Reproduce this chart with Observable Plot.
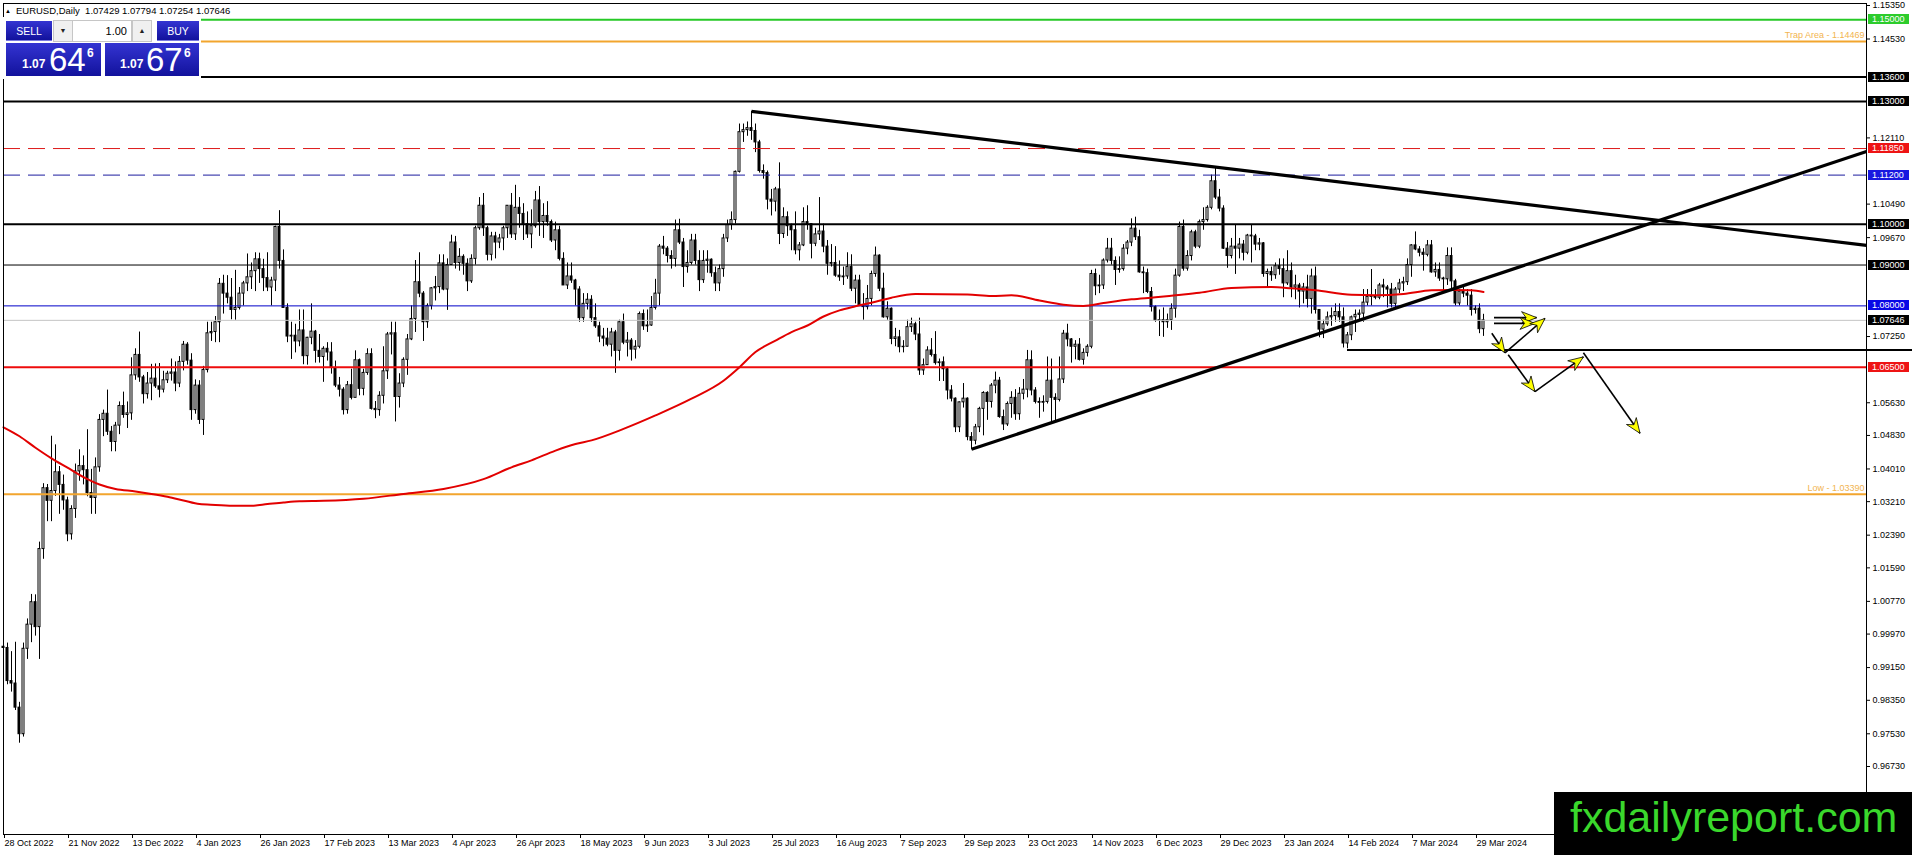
<!DOCTYPE html>
<html><head><meta charset="utf-8">
<script src="https://cdn.jsdelivr.net/npm/d3@7"></script>
<script src="https://cdn.jsdelivr.net/npm/@observablehq/plot@0.6"></script>
<style>
html,body{margin:0;padding:0;background:#fff;}
#wrap{position:relative;width:1912px;height:855px;overflow:hidden;font-family:"Liberation Sans",Arial,sans-serif;}
#chart svg{display:block;}
#hdr{position:absolute;left:5px;top:5px;font-size:9.5px;line-height:12px;color:#000;white-space:nowrap;}
#hdr .tri{font-size:6px;vertical-align:1px;margin-right:5px;}
#panel{position:absolute;left:0;top:17px;width:201px;height:62px;background:#fff;}
#panel div{position:absolute;box-sizing:border-box;}
.blue{background:linear-gradient(#3434d2,#12129c);color:#fff;}
.btn{top:4px;height:20px;font-size:10.5px;line-height:20px;text-align:center;border-bottom:1px solid #7a7ae0;}
.spin{top:3px;height:22px;width:20px;background:#f0f0f0;border:1px solid #c6c6c6;font-size:7px;line-height:20px;text-align:center;color:#222;}
.lot{top:3px;height:22px;left:72px;width:60px;background:#fff;border:1px solid #c6c6c6;font-size:11px;line-height:20px;text-align:right;padding-right:4px;color:#000;}
.quote{top:26px;height:33px;}
.quote span{position:absolute;line-height:1;white-space:nowrap;color:#fff;}
.q-sm{font-size:12px;font-weight:bold;top:15px;}
.q-big{font-size:33px;top:0px;}
.q-sup{font-size:12px;font-weight:bold;top:4px;}
#wm{position:absolute;left:1554px;top:792px;width:358px;height:63px;background:#000;}
#wm span{position:absolute;left:16px;top:4px;font-size:43px;line-height:43px;color:#3ad82c;white-space:nowrap;}
</style></head><body>
<div id="wrap">
  <div id="chart"></div>
  <div id="hdr"><span class="tri">▲</span>EURUSD,Daily&nbsp; 1.07429 1.07794 1.07254 1.07646</div>
  <div id="panel">
    <div class="btn blue" style="left:6px;width:46px;">SELL</div>
    <div class="spin" style="left:53px;">▼</div>
    <div class="lot">1.00</div>
    <div class="spin" style="left:132px;">▲</div>
    <div class="btn blue" style="left:157px;width:42px;">BUY</div>
    <div class="quote blue" style="left:6px;width:95px;"><span class="q-sm" style="left:16px;">1.07</span><span class="q-big" style="left:43px;">64</span><span class="q-sup" style="left:81px;">6</span></div>
    <div class="quote blue" style="left:105px;width:94px;"><span class="q-sm" style="left:15px;">1.07</span><span class="q-big" style="left:41px;">67</span><span class="q-sup" style="left:79px;">6</span></div>
  </div>
  <div id="wm"><span>fxdailyreport.com</span></div>
</div>
<script>
// ---------------- DATA (EURUSD Daily, one entry per bar, 28 Oct 2022 .. 2 Apr 2024) ----------------
const firstOpen = 0.9966;
const close = [
  0.9963,
  0.9882, 0.9876, 0.9817, 0.9752, 0.9961,
  1.0020, 1.0075, 1.0014, 1.0205, 1.0354,
  1.0323, 1.0347, 1.0393, 1.0362, 1.0324,
  1.0241, 1.0303, 1.0395, 1.0408, 1.0398,
  1.0342, 1.0330, 1.0405, 1.0521, 1.0536,
  1.0492, 1.0467, 1.0507, 1.0555, 1.0533,
  1.0537, 1.0630, 1.0680, 1.0625, 1.0584,
  1.0610, 1.0622, 1.0603, 1.0595, 1.0618,
  1.0634, 1.0637, 1.0610, 1.0663, 1.0705,
  1.0666, 1.0545, 1.0605, 1.0521, 1.0643,
  1.0733, 1.0736, 1.0760, 1.0854, 1.0830,
  1.0820, 1.0790, 1.0795, 1.0830, 1.0855,
  1.0870, 1.0885, 1.0914, 1.0890, 1.0868,
  1.0845, 1.0862, 1.0993, 1.0910, 1.0795,
  1.0725, 1.0727, 1.0713, 1.0740, 1.0677,
  1.0722, 1.0737, 1.0690, 1.0675, 1.0695,
  1.0686, 1.0648, 1.0605, 1.0595, 1.0545,
  1.0606, 1.0575, 1.0667, 1.0597, 1.0636,
  1.0682, 1.0548, 1.0545, 1.0580, 1.0640,
  1.0730, 1.0733, 1.0577, 1.0610, 1.0668,
  1.0718, 1.0768, 1.0858, 1.0830, 1.0760,
  1.0800, 1.0843, 1.0846, 1.0904, 1.0840,
  1.0900, 1.0955, 1.0905, 1.0920, 1.0903,
  1.0860, 1.0915, 1.0990, 1.1045, 1.0990,
  1.0925, 1.0970, 1.0955, 1.0965, 1.0990,
  1.1045, 1.0975, 1.1040, 1.1025, 1.1000,
  1.0975, 1.0995, 1.1058, 1.1005, 1.1020,
  1.1005, 1.0960, 1.0985, 1.0915, 1.0850,
  1.0872, 1.0862, 1.0840, 1.0770, 1.0805,
  1.0815, 1.0770, 1.0750, 1.0725, 1.0720,
  1.0705, 1.0735, 1.0690, 1.0760, 1.0710,
  1.0715, 1.0693, 1.0700, 1.0780, 1.0750,
  1.0752, 1.0795, 1.0830, 1.0945, 1.0940,
  1.0922, 1.0915, 1.0985, 1.0955, 1.0895,
  1.0905, 1.0960, 1.0910, 1.0863, 1.0910,
  1.0913, 1.0880, 1.0855, 1.0890, 1.0965,
  1.0998, 1.1010, 1.1128, 1.1225, 1.1230,
  1.1235, 1.1228, 1.1200, 1.1130, 1.1125,
  1.1060, 1.1055, 1.1085, 1.0976, 1.1017,
  1.0995, 1.0985, 1.0936, 1.0948, 1.1005,
  1.1000, 1.0952, 1.0975, 1.0982, 1.0945,
  1.0903, 1.0905, 1.0874, 1.0870, 1.0872,
  1.0895, 1.0842, 1.0862, 1.0801, 1.0797,
  1.0817, 1.0878, 1.0923, 1.0842, 1.0772,
  1.0793, 1.0719, 1.0723, 1.0699, 1.0700,
  1.0748, 1.0755, 1.0730, 1.0642, 1.0655,
  1.0691, 1.0680, 1.0660, 1.0662, 1.0645,
  1.0593, 1.0573, 1.0503, 1.0564, 1.0573,
  1.0479, 1.0470, 1.0503, 1.0548, 1.0587,
  1.0565, 1.0605, 1.0617, 1.0528, 1.0510,
  1.0560, 1.0575, 1.0535, 1.0585, 1.0595,
  1.0667, 1.0593, 1.0565, 1.0563, 1.0565,
  1.0617, 1.0575, 1.0570, 1.0620, 1.0732,
  1.0718, 1.0700, 1.0705, 1.0668, 1.0685,
  1.0700, 1.0878, 1.0848, 1.0850, 1.0911,
  1.0940, 1.0910, 1.0888, 1.0890, 1.0940,
  1.0955, 1.0989, 1.0968, 1.0882, 1.0880,
  1.0834, 1.0797, 1.0764, 1.0765, 1.0760,
  1.0765, 1.0793, 1.0874, 1.0993, 1.0891,
  1.0922, 1.0980, 1.0945, 1.1005, 1.1010,
  1.1040, 1.1105, 1.1065, 1.1038,
  1.0940, 1.0922, 1.0945, 1.0940,
  1.0950, 1.0930, 1.0972, 1.0970, 1.0950,
  1.0953, 1.0878, 1.0883, 1.0875, 1.0897,
  1.0890, 1.0855, 1.0885, 1.0845, 1.0850,
  1.0835, 1.0845, 1.0817, 1.0872, 1.0790,
  1.0742, 1.0755, 1.0772, 1.0775, 1.0785,
  1.0772, 1.0708, 1.0728, 1.0772, 1.0778,
  1.0781, 1.0808, 1.0822, 1.0823, 1.0820,
  1.0850, 1.0845, 1.0840, 1.0805, 1.0840,
  1.0855, 1.0858, 1.0900, 1.0948, 1.0938,
  1.0930, 1.0925, 1.0948, 1.0882, 1.0888,
  1.0867, 1.0865, 1.0922, 1.0860, 1.0806,
  1.0835, 1.0830, 1.0825, 1.0790, 1.0793,
  1.0743, 1.07646
];
const high = [
  1.0003,
  0.9975, 0.9954, 0.9977, 0.9830, 0.9975,
  1.0034, 1.0094, 1.0093, 1.0222, 1.0365,
  1.0363, 1.0481, 1.0460, 1.0407, 1.0386,
  1.0332, 1.0311, 1.0413, 1.0448, 1.0433,
  1.0497, 1.0400, 1.0428, 1.0534, 1.0545,
  1.0594, 1.0505, 1.0515, 1.0565, 1.0589,
  1.0565, 1.0673, 1.0695, 1.0736, 1.0630,
  1.0637, 1.0657, 1.0658, 1.0659, 1.0640,
  1.0640, 1.0670, 1.0663, 1.0676, 1.0713,
  1.0710, 1.0683, 1.0619, 1.0617, 1.0652,
  1.0760, 1.0760, 1.0774, 1.0867, 1.0875,
  1.0874, 1.0867, 1.0887, 1.0845, 1.0860,
  1.0927, 1.0905, 1.0930, 1.0929, 1.0914,
  1.0930, 1.0870, 1.0995, 1.1033, 1.0937,
  1.0805, 1.0760, 1.0755, 1.0790, 1.0790,
  1.0723, 1.0805, 1.0740, 1.0730, 1.0700,
  1.0710, 1.0710, 1.0665, 1.0625, 1.0600,
  1.0615, 1.0645, 1.0690, 1.0670, 1.0645,
  1.0695, 1.0695, 1.0566, 1.0590, 1.0700,
  1.0735, 1.0760, 1.0760, 1.0634, 1.0673,
  1.0730, 1.0800, 1.0911, 1.0930, 1.0835,
  1.0805, 1.0845, 1.0872, 1.0925, 1.0925,
  1.0915, 1.0973, 1.0970, 1.0940, 1.0925,
  1.0915, 1.0925, 1.0995, 1.1065, 1.1075,
  1.0995, 1.0980, 1.0980, 1.0975, 1.0995,
  1.1045, 1.1075, 1.1095, 1.1065, 1.1050,
  1.1030, 1.1035, 1.1080, 1.1092, 1.1050,
  1.1055, 1.1010, 1.1005, 1.0995, 1.0930,
  1.0905, 1.0905, 1.0865, 1.0847, 1.0830,
  1.0830, 1.0825, 1.0805, 1.0760, 1.0745,
  1.0745, 1.0745, 1.0740, 1.0765, 1.0780,
  1.0735, 1.0720, 1.0715, 1.0785, 1.0790,
  1.0790, 1.0823, 1.0865, 1.0950, 1.0970,
  1.0945, 1.0935, 1.1010, 1.1012, 1.0965,
  1.0935, 1.0975, 1.0975, 1.0935, 1.0935,
  1.0935, 1.0915, 1.0895, 1.0900, 1.0975,
  1.1010, 1.1030, 1.1130, 1.1245, 1.1245,
  1.1250, 1.1276, 1.1245, 1.1205, 1.1145,
  1.1130, 1.1085, 1.1090, 1.1150, 1.1040,
  1.1030, 1.1000, 1.1030, 1.0955, 1.1040,
  1.1045, 1.1000, 1.0990, 1.1065, 1.1000,
  1.0960, 1.0950, 1.0945, 1.0910, 1.0895,
  1.0930, 1.0925, 1.0875, 1.0875, 1.0830,
  1.0850, 1.0885, 1.0944, 1.0925, 1.0880,
  1.0810, 1.0795, 1.0745, 1.0740, 1.0715,
  1.0765, 1.0770, 1.0760, 1.0770, 1.0670,
  1.0700, 1.0720, 1.0737, 1.0670, 1.0675,
  1.0650, 1.0605, 1.0575, 1.0565, 1.0610,
  1.0575, 1.0490, 1.0510, 1.0552, 1.0590,
  1.0590, 1.0610, 1.0638, 1.0625, 1.0545,
  1.0565, 1.0590, 1.0595, 1.0600, 1.0620,
  1.0691, 1.0690, 1.0600, 1.0575, 1.0580,
  1.0675, 1.0670, 1.0585, 1.0675, 1.0740,
  1.0755, 1.0720, 1.0715, 1.0720, 1.0695,
  1.0705, 1.0887, 1.0890, 1.0875, 1.0915,
  1.0965, 1.0965, 1.0920, 1.0920, 1.0950,
  1.0960, 1.1013, 1.1017, 1.0985, 1.0895,
  1.0890, 1.0845, 1.0800, 1.0790, 1.0795,
  1.0780, 1.0805, 1.0890, 1.1005, 1.1010,
  1.0935, 1.0985, 1.0985, 1.1010, 1.1040,
  1.1045, 1.1120, 1.1140, 1.1085,
  1.1045, 1.0955, 1.0965, 1.0998,
  1.0965, 1.0960, 1.0975, 1.0998, 1.0975,
  1.0965, 1.0955, 1.0890, 1.0895, 1.0905,
  1.0915, 1.0915, 1.0935, 1.0905, 1.0875,
  1.0855, 1.0855, 1.0875, 1.0890, 1.0895,
  1.0790, 1.0765, 1.0785, 1.0795, 1.0805,
  1.0805, 1.0795, 1.0735, 1.0775, 1.0790,
  1.0790, 1.0840, 1.0840, 1.0889, 1.0840,
  1.0855, 1.0865, 1.0850, 1.0855, 1.0845,
  1.0865, 1.0870, 1.0915, 1.0950, 1.0981,
  1.0945, 1.0940, 1.0960, 1.0960, 1.0905,
  1.0905, 1.0870, 1.0942, 1.0942, 1.0865,
  1.0840, 1.0845, 1.0840, 1.0840, 1.0800,
  1.0805, 1.07794
];
const low = [
  0.9930,
  0.9873, 0.9855, 0.9810, 0.9730, 0.9745,
  0.9935, 0.9976, 0.9992, 0.9935, 1.0180,
  1.0272, 1.0272, 1.0334, 1.0290, 1.0300,
  1.0223, 1.0227, 1.0280, 1.0371, 1.0362,
  1.0333, 1.0290, 1.0290, 1.0393, 1.0480,
  1.0483, 1.0443, 1.0443, 1.0485, 1.0525,
  1.0500, 1.0520, 1.0618, 1.0613, 1.0560,
  1.0572, 1.0568, 1.0598, 1.0575, 1.0587,
  1.0610, 1.0616, 1.0590, 1.0600, 1.0641,
  1.0655, 1.0520, 1.0535, 1.0510, 1.0483,
  1.0636, 1.0713, 1.0710, 1.0710, 1.0780,
  1.0805, 1.0766, 1.0765, 1.0790, 1.0800,
  1.0835, 1.0840, 1.0835, 1.0855, 1.0835,
  1.0835, 1.0800, 1.0835, 1.0890, 1.0795,
  1.0710, 1.0669, 1.0685, 1.0700, 1.0656,
  1.0655, 1.0705, 1.0660, 1.0660, 1.0613,
  1.0665, 1.0633, 1.0600, 1.0577, 1.0533,
  1.0535, 1.0570, 1.0575, 1.0580, 1.0580,
  1.0630, 1.0545, 1.0524, 1.0530, 1.0560,
  1.0620, 1.0680, 1.0516, 1.0550, 1.0600,
  1.0630, 1.0715, 1.0735, 1.0820, 1.0713,
  1.0745, 1.0790, 1.0812, 1.0830, 1.0837,
  1.0789, 1.0900, 1.0890, 1.0885, 1.0875,
  1.0835, 1.0855, 1.0900, 1.0985, 1.0970,
  1.0910, 1.0910, 1.0915, 1.0940, 1.0935,
  1.0965, 1.0965, 1.0960, 1.0990, 1.0960,
  1.0965, 1.0940, 1.0990, 1.0970, 1.0965,
  1.0995, 1.0955, 1.0935, 1.0910, 1.0850,
  1.0840, 1.0855, 1.0800, 1.0760, 1.0760,
  1.0790, 1.0760, 1.0745, 1.0710, 1.0700,
  1.0700, 1.0675, 1.0635, 1.0665, 1.0705,
  1.0675, 1.0665, 1.0670, 1.0695, 1.0740,
  1.0735, 1.0750, 1.0790, 1.0800, 1.0925,
  1.0905, 1.0890, 1.0895, 1.0950, 1.0845,
  1.0880, 1.0900, 1.0900, 1.0835, 1.0855,
  1.0880, 1.0870, 1.0835, 1.0835, 1.0870,
  1.0955, 1.0985, 1.1000, 1.1125, 1.1200,
  1.1215, 1.1205, 1.1175, 1.1125, 1.1110,
  1.1035, 1.1020, 1.1030, 1.0950, 1.0965,
  1.0970, 1.0935, 1.0925, 1.0910, 1.0945,
  1.0985, 1.0915, 1.0945, 1.0960, 1.0930,
  1.0875, 1.0895, 1.0870, 1.0860, 1.0850,
  1.0865, 1.0835, 1.0805, 1.0800, 1.0765,
  1.0790, 1.0800, 1.0870, 1.0835, 1.0770,
  1.0765, 1.0705, 1.0700, 1.0685, 1.0685,
  1.0700, 1.0735, 1.0715, 1.0630, 1.0630,
  1.0655, 1.0675, 1.0655, 1.0615, 1.0615,
  1.0570, 1.0565, 1.0490, 1.0490, 1.0550,
  1.0470, 1.0448, 1.0460, 1.0490, 1.0482,
  1.0520, 1.0550, 1.0585, 1.0525, 1.0495,
  1.0505, 1.0525, 1.0520, 1.0520, 1.0570,
  1.0575, 1.0580, 1.0560, 1.0525, 1.0540,
  1.0560, 1.0515, 1.0516, 1.0565, 1.0610,
  1.0700, 1.0660, 1.0668, 1.0665, 1.0655,
  1.0675, 1.0695, 1.0825, 1.0830, 1.0840,
  1.0905, 1.0900, 1.0850, 1.0880, 1.0885,
  1.0925, 1.0945, 1.0960, 1.0880, 1.0830,
  1.0830, 1.0785, 1.0760, 1.0725, 1.0723,
  1.0745, 1.0740, 1.0770, 1.0870, 1.0885,
  1.0885, 1.0910, 1.0940, 1.0940, 1.0985,
  1.1005, 1.1035, 1.1060, 1.1030,
  1.0938, 1.0892, 1.0915, 1.0877,
  1.0915, 1.0910, 1.0925, 1.0905, 1.0935,
  1.0935, 1.0870, 1.0845, 1.0860, 1.0865,
  1.0875, 1.0820, 1.0850, 1.0820, 1.0815,
  1.0795, 1.0805, 1.0795, 1.0780, 1.0780,
  1.0722, 1.0720, 1.0750, 1.0750, 1.0760,
  1.0760, 1.0697, 1.0695, 1.0715, 1.0735,
  1.0765, 1.0760, 1.0800, 1.0800, 1.0815,
  1.0815, 1.0820, 1.0795, 1.0795, 1.0795,
  1.0830, 1.0835, 1.0850, 1.0870, 1.0935,
  1.0920, 1.0885, 1.0920, 1.0880, 1.0870,
  1.0860, 1.0835, 1.0850, 1.0835, 1.0800,
  1.0800, 1.0820, 1.0800, 1.0775, 1.0780,
  1.0732, 1.07254
];

// 200-period moving average (red) at these bars
const maBar = [0,4,8,12,16,20,24,28,33,37,41,45,49,53,58,62,66,70,74,80,90,100,110,120,127,132,138,143,147,155,163,172,180,184,188,193,197,201,205,209,213,218,222,228,241,247,252,259,265,270,275,282,288,293,299,307,317,322,328,337,343,350,357,362,367,370];
const maVal = [1.0503,1.0481,1.0453,1.0427,1.0404,1.0381,1.0363,1.0352,1.0346,1.0340,1.0333,1.0324,1.0315,1.0313,1.0311,1.0311,1.0315,1.0319,1.0322,1.0323,1.0328,1.0340,1.0352,1.0376,1.0405,1.0422,1.0446,1.0462,1.0471,1.0499,1.0532,1.0573,1.0617,1.0650,1.0687,1.0715,1.0736,1.0752,1.0774,1.0789,1.0799,1.0810,1.0820,1.0829,1.0828,1.0824,1.0826,1.0813,1.0803,1.0800,1.0807,1.0816,1.0821,1.0826,1.0832,1.0844,1.0846,1.0843,1.0838,1.0827,1.0826,1.0829,1.0838,1.0839,1.0838,1.0834];

// x axis (bar index -> date label)
const dateTicks = [0,16,32,48,64,80,96,112,128,144,160,176,192,208,224,240,256,272,288,304,320,336,352,368];
const dateLabels = ["28 Oct 2022","21 Nov 2022","13 Dec 2022","4 Jan 2023","26 Jan 2023","17 Feb 2023","13 Mar 2023","4 Apr 2023","26 Apr 2023","18 May 2023","9 Jun 2023","3 Jul 2023","25 Jul 2023","16 Aug 2023","7 Sep 2023","29 Sep 2023","23 Oct 2023","14 Nov 2023","6 Dec 2023","29 Dec 2023","23 Jan 2024","14 Feb 2024","7 Mar 2024","29 Mar 2024"];
// y axis price ticks (the ones not hidden behind the level boxes)
const priceTicks = [1.15350,1.14530,1.12110,1.10490,1.09670,1.07250,1.05630,1.04830,1.04010,1.03210,1.02390,1.01590,1.00770,0.99970,0.99150,0.98350,0.97530,0.96730];

// horizontal levels
const thickLevels = [1.15000, 1.14469, 1.13600, 1.13000, 1.10000, 1.06500, 1.03390];
const thinLevels = [1.09000, 1.08000, 1.07646];
const dashedLevels = [1.11850, 1.11200];
const boxPrices = [1.15000, 1.13600, 1.13000, 1.11850, 1.11200, 1.10000, 1.09000, 1.08000, 1.07646, 1.06500];
const notePrices = [1.14469, 1.03390];
const noteTexts = ["Trap Area - 1.14469", "Low - 1.03390"];

// trend lines (bar, price) -> (bar, price)
const trendFromBar = [187, 242];
const trendFromPrice = [1.1276, 1.0449];
const trendToBar = [465.75, 465.75];
const trendToPrice = [1.0948, 1.1178];
// support line from the Feb 2024 low
const supportBar = 336;
const supportPrice = 1.0691;

// projected path arrows
const arrowFromBar   = [372.75, 372.75, 372.2, 375.5, 376.3, 383.0, 395.1];
const arrowFromPrice = [1.0770, 1.0756, 1.0732, 1.0684, 1.0679, 1.0589, 1.0684];
const arrowToBar     = [383.4, 383.0, 375.5, 385.5, 383.0, 395.1, 409.25];
const arrowToPrice   = [1.0770, 1.0756, 1.0684, 1.0768, 1.0589, 1.0674, 1.0487];

// ---------------- STYLES ----------------
const thickColors = ["#26c926", "#f2a52e", "#000", "#000", "#000", "#ee0c0c", "#f2a52e"];
const thinColors = ["#000", "#0000c8", "#c4c4c4"];
const dashedColors = ["#dd1a1a", "#1c1c9e"];
const boxColors = ["#2ccc2c", "#000", "#000", "#ee1414", "#1818e0", "#000", "#000", "#0808e6", "#000", "#ee1414"];
const noteColor = "#f2b450";

// ---------------- BUILD ----------------
const bars = close.map((c, i) => {
  const o = i === 0 ? firstOpen : close[i - 1];
  return {i, o, c, h: Math.max(high[i], o, c), l: Math.min(low[i], o, c)};
});
const ma = maBar.map((b, k) => ({b, v: maVal[k]}));
const trends = trendFromBar.map((b, k) => ({x1: b, y1: trendFromPrice[k], x2: trendToBar[k], y2: trendToPrice[k]}));
const thick = thickLevels.map((p, k) => ({p, color: thickColors[k]}));
const thin = thinLevels.map((p, k) => ({p, color: thinColors[k]}));
const dashed = dashedLevels.map((p, k) => ({p, color: dashedColors[k]}));
const notes = notePrices.map((p, k) => ({p, t: noteTexts[k]}));

function supportMark(index, scales, values, dims) {
  const y = scales.y(supportPrice);
  return d3.create("svg:line")
    .attr("x1", scales.x(supportBar)).attr("x2", dims.width)
    .attr("y1", y).attr("y2", y)
    .attr("stroke", "#000").attr("stroke-width", 2).node();
}

function arrowsMark(index, scales, values, dims) {
  const g = d3.create("svg:g");
  arrowFromBar.forEach((b, k) => {
    const x1 = scales.x(b), y1 = scales.y(arrowFromPrice[k]);
    const x2 = scales.x(arrowToBar[k]), y2 = scales.y(arrowToPrice[k]);
    g.append("line").attr("x1", x1).attr("y1", y1).attr("x2", x2).attr("y2", y2)
      .attr("stroke", "#000").attr("stroke-width", 1.6);
    const a = Math.atan2(y2 - y1, x2 - x1), L = 15, W = 6;
    const bx = x2 - L * Math.cos(a), by = y2 - L * Math.sin(a);
    const nx = Math.sin(a) * W, ny = -Math.cos(a) * W;
    const mx = x2 - L * 0.7 * Math.cos(a), my = y2 - L * 0.7 * Math.sin(a);
    g.append("path")
      .attr("d", `M${x2},${y2}L${bx + nx},${by + ny}L${mx},${my}L${bx - nx},${by - ny}Z`)
      .attr("fill", "#ffff00").attr("stroke", "#000").attr("stroke-width", 0.8)
      .attr("stroke-linejoin", "round");
  });
  return g.node();
}

function boxesMark(index, scales, values, dims) {
  const g = d3.create("svg:g")
    .attr("font-family", "Liberation Sans, Arial, sans-serif")
    .attr("font-size", 9)
    .attr("text-anchor", "start");
  const x0 = dims.width - dims.marginRight + 2;
  boxPrices.forEach((p, k) => {
    const y = Math.round(scales.y(p));
    g.append("rect").attr("x", x0).attr("y", y - 5).attr("width", 41).attr("height", 10).attr("fill", boxColors[k]);
    g.append("text").attr("x", x0 + 4).attr("y", y).attr("dy", "0.35em")
      .attr("text-anchor", "start").attr("fill", "#fff").text(p.toFixed(5));
  });
  return g.node();
}

const chart = Plot.plot({
  width: 1912,
  height: 855,
  marginLeft: 3,
  marginTop: 3,
  marginRight: 46,
  marginBottom: 21,
  x: {domain: [0, 465.75], axis: null},
  y: {domain: [0.95066, 1.153988], axis: null},
  style: {background: "#fff", fontFamily: "Liberation Sans, Arial, sans-serif", fontSize: "9px", color: "#000"},
  marks: [
    Plot.ruleX(bars, {x: "i", y1: "l", y2: "h", stroke: "#000", strokeWidth: 1}),
    Plot.rect(bars, {x1: d => d.i - 0.25, x2: d => d.i + 0.25, y1: "o", y2: "c",
      fill: d => d.c >= d.o ? "#fff" : "#000", stroke: "#000", strokeWidth: 1}),
    Plot.ruleY(thin, {y: "p", stroke: "color", strokeWidth: 1}),
    Plot.ruleY(thick, {y: "p", stroke: "color", strokeWidth: 2}),
    Plot.ruleY(dashed, {y: "p", stroke: "color", strokeWidth: 1, strokeDasharray: "17,8"}),
    Plot.line(ma, {x: "b", y: "v", stroke: "#e20000", strokeWidth: 2, curve: "monotone-x"}),
    Plot.link(trends, {x1: "x1", y1: "y1", x2: "x2", y2: "y2", stroke: "#000", strokeWidth: 3.2}),
    supportMark,
    arrowsMark,
    Plot.text(notes, {frameAnchor: "right", y: "p", text: "t", textAnchor: "end", dx: -2, dy: -6, fill: noteColor, fontSize: 9}),
    Plot.axisY({anchor: "right", ticks: priceTicks, tickFormat: d => d.toFixed(5), tickSize: 3, tickPadding: 3, fontSize: 9, label: null}),
    Plot.axisX({anchor: "bottom", ticks: dateTicks, tickFormat: d => dateLabels[dateTicks.indexOf(d)], tickSize: 4, tickPadding: 1, textAnchor: "start", dx: 1, fontSize: 9, label: null}),
    Plot.frame({stroke: "#000", strokeWidth: 1}),
    boxesMark
  ]
});
document.getElementById("chart").appendChild(chart);
</script>
</body></html>
